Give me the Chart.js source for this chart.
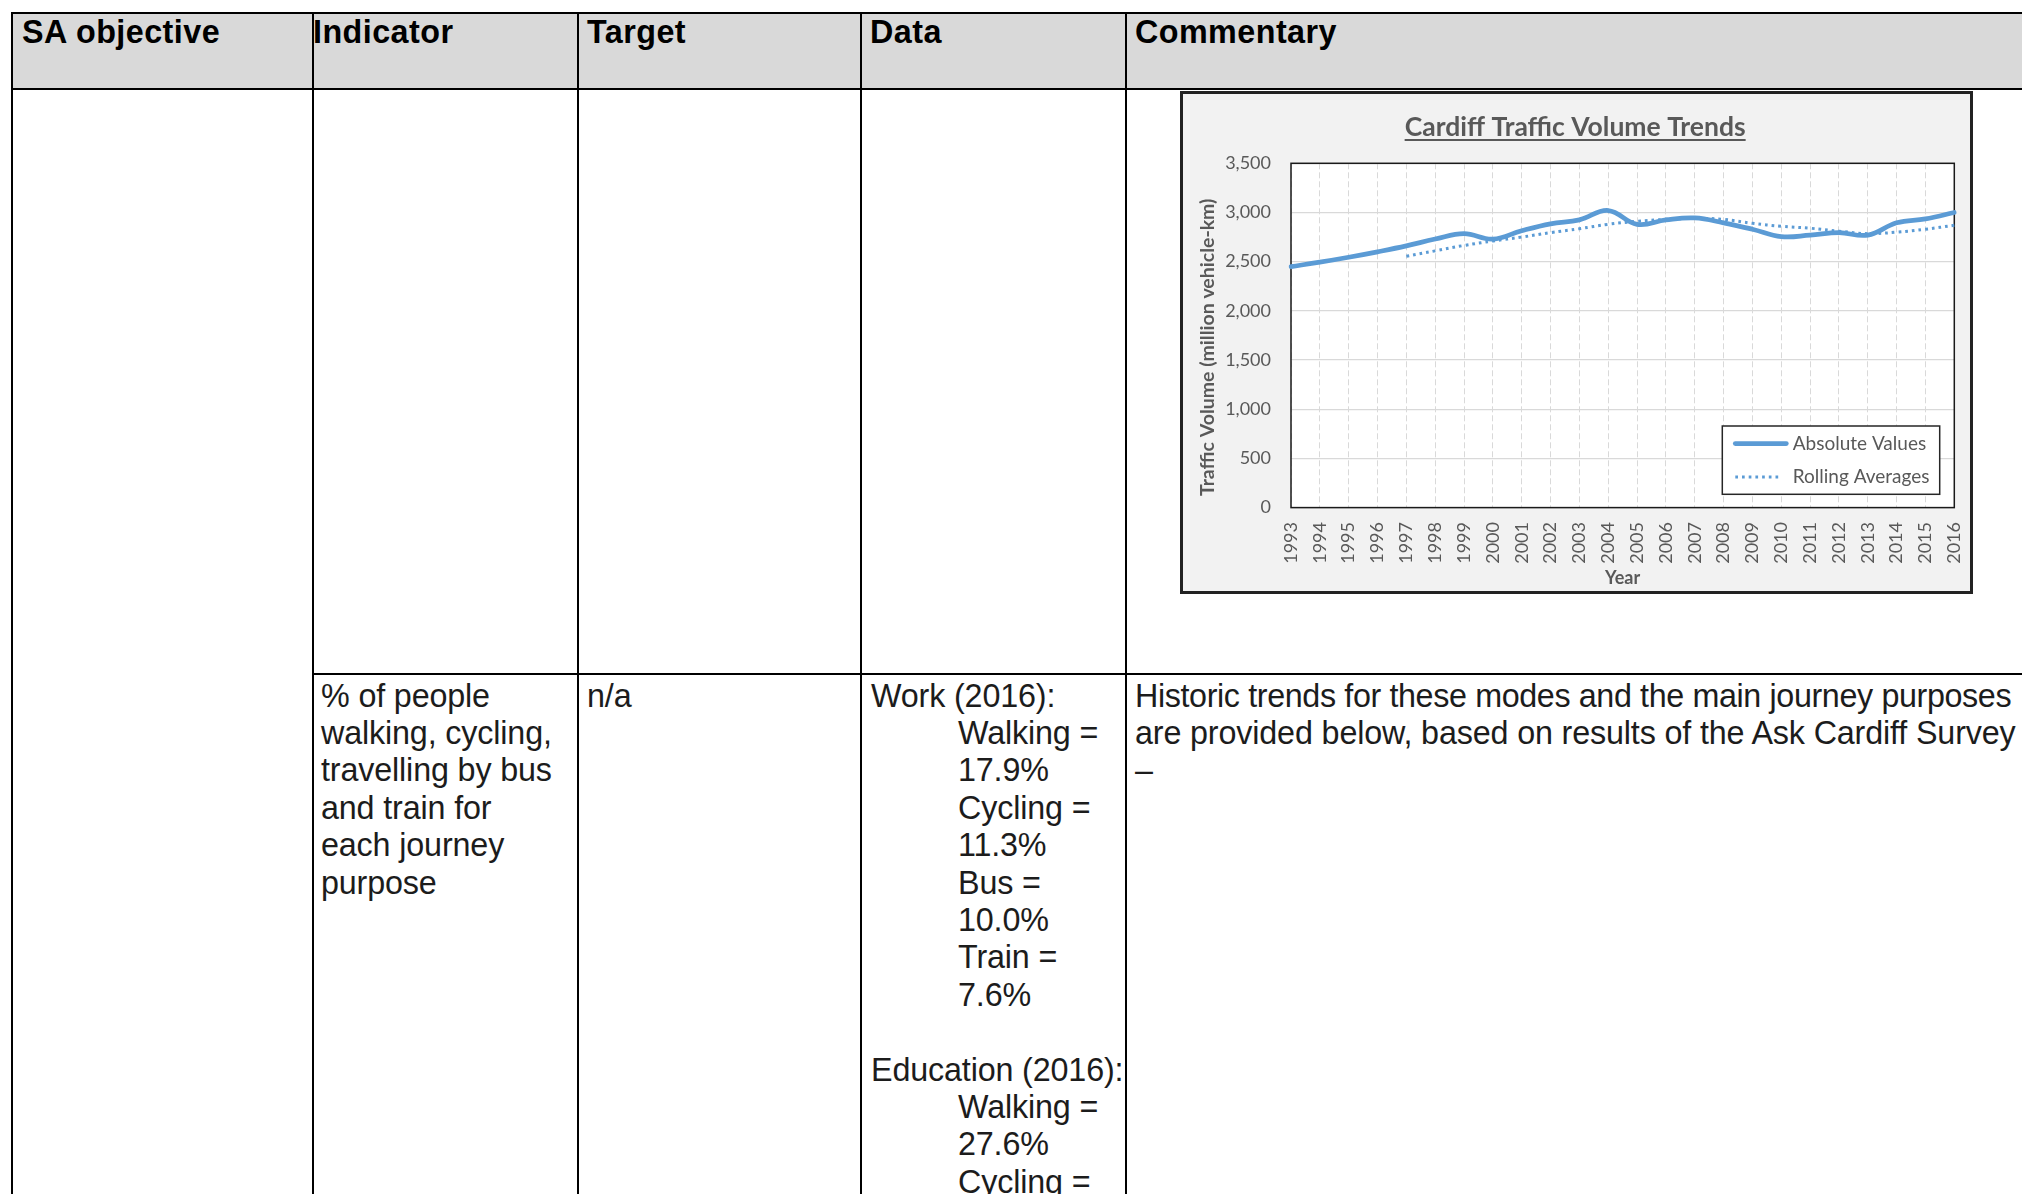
<!DOCTYPE html>
<html>
<head>
<meta charset="utf-8">
<title>Cardiff Traffic Volume Trends</title>
<script src="https://cdn.jsdelivr.net/npm/chart.js@4.4.1/dist/chart.umd.min.js"></script>
<style>
    html, body { margin: 0; padding: 0; background: #fff; }
    body {
        width: 2022px; height: 1194px; overflow: hidden; position: relative;
        font-family: "Liberation Sans", Arial, sans-serif; color: #1c1c1c;
    }
    .rule { position: absolute; background: #000; }
    .head-bg { position: absolute; left: 13px; top: 13.5px; width: 2009px; height: 74px; background: #d9d9d9; }
    .cell { position: absolute; font-size: 32.3px; line-height: 37.4px; white-space: nowrap; letter-spacing: -0.15px; }
    .cell.head { font-weight: bold; color: #000; letter-spacing: 0.45px; }
    .ind { padding-left: 87px; }
    .tight { letter-spacing: -0.38px; }
    #chart-box {
        position: absolute; left: 1180px; top: 91px; width: 787px; height: 497px;
        border: 3px solid #222; background: #f2f2f2;
    }
    #chart-box canvas { display: block; }
</style>
</head>
<body>
    <div class="head-bg"></div>

    <!-- table rules -->
    <div class="rule" style="left:11px;top:11.5px;width:2011px;height:2px"></div>
    <div class="rule" style="left:11px;top:87.5px;width:2011px;height:2px"></div>
    <div class="rule" style="left:311.5px;top:673px;width:1711px;height:2px"></div>
    <div class="rule" style="left:11px;top:11.5px;width:2px;height:1183px"></div>
    <div class="rule" style="left:311.5px;top:11.5px;width:2px;height:1183px"></div>
    <div class="rule" style="left:577px;top:11.5px;width:2px;height:1183px"></div>
    <div class="rule" style="left:860px;top:11.5px;width:2px;height:1183px"></div>
    <div class="rule" style="left:1125px;top:11.5px;width:2px;height:1183px"></div>

    <!-- header -->
    <div class="cell head" style="left:22px;top:13.5px">SA objective</div>
    <div class="cell head" style="left:313px;top:13.5px">Indicator</div>
    <div class="cell head" style="left:587px;top:13.5px">Target</div>
    <div class="cell head" style="left:870px;top:13.5px">Data</div>
    <div class="cell head" style="left:1135px;top:13.5px">Commentary</div>

    <!-- chart in first row -->
    <div id="chart-box"><canvas id="trafficChart" width="787" height="497"></canvas></div>

    <!-- second row -->
    <div class="cell" style="left:321px;top:677.5px">
        <div>% of people</div>
        <div>walking, cycling,</div>
        <div>travelling by bus</div>
        <div>and train for</div>
        <div>each journey</div>
        <div>purpose</div>
    </div>
    <div class="cell" style="left:587px;top:677.5px">n/a</div>
    <div class="cell" style="left:871px;top:677.5px">
        <div>Work (2016):</div>
        <div class="ind">Walking =</div>
        <div class="ind">17.9%</div>
        <div class="ind">Cycling =</div>
        <div class="ind">11.3%</div>
        <div class="ind">Bus =</div>
        <div class="ind">10.0%</div>
        <div class="ind">Train =</div>
        <div class="ind">7.6%</div>
        <div>&nbsp;</div>
        <div>Education (2016):</div>
        <div class="ind">Walking =</div>
        <div class="ind">27.6%</div>
        <div class="ind">Cycling =</div>
    </div>
    <div class="cell" style="left:1135px;top:677.5px">
        <div class="tight">Historic trends for these modes and the main journey purposes</div>
        <div>are provided below, based on results of the Ask Cardiff Survey</div>
        <div>&ndash;</div>
    </div>

<script>
// Cardiff traffic volume chart
const years = ['1993','1994','1995','1996','1997','1998','1999','2000','2001','2002','2003','2004',
               '2005','2006','2007','2008','2009','2010','2011','2012','2013','2014','2015','2016'];
const absoluteValues = [2450, 2495, 2545, 2600, 2660, 2730, 2785, 2730, 2815, 2885, 2925, 3020,
                        2880, 2925, 2945, 2895, 2830, 2755, 2770, 2795, 2770, 2895, 2935, 3000];
const rollingAverages = [null, null, null, null, 2555, 2610, 2665, 2710, 2750, 2795, 2835, 2880,
                         2910, 2930, 2940, 2930, 2890, 2860, 2840, 2810, 2785, 2800, 2830, 2870];
const yMin = 0;
const yMax = 3500;
const yStep = 500;

(function() {
    const grey = '#595959';
    const blue = '#5b9bd5';
    const titleSize = 26.5;
    const titlePadTop = 33.5 - titleSize * 0.6;
    const titlePadBottom = 69.3 - titlePadTop - titleSize * 1.2;
    const axisTitleSize = 19.5;

    Chart.defaults.font.family = 'Lato';

    // white plot area + black frame round it
    const plotFrame = {
        id: 'plotFrame',
        beforeDraw(chart) {
            const a = chart.chartArea, ctx = chart.ctx;
            ctx.save();
            ctx.fillStyle = '#fff';
            ctx.fillRect(a.left, a.top, a.right - a.left, a.bottom - a.top);
            ctx.restore();
        },
        beforeDatasetsDraw(chart) {
            const a = chart.chartArea, ctx = chart.ctx;
            ctx.save();
            ctx.strokeStyle = '#1a1a1a';
            ctx.lineWidth = 1.5;
            ctx.strokeRect(a.left, a.top, a.right - a.left, a.bottom - a.top);
            ctx.restore();
        }
    };

    // underline under the chart title
    const titleUnderline = {
        id: 'titleUnderline',
        afterDraw(chart) {
            const t = chart.titleBlock;
            if (!t) return;
            const ctx = chart.ctx;
            const text = chart.options.plugins.title.text;
            ctx.save();
            ctx.font = 'bold ' + titleSize + 'px Lato';
            const w = ctx.measureText(text).width;
            const cx = (t.left + t.right) / 2;
            const y = t.top + titlePadTop + titleSize * 0.6 + 12.5;
            ctx.strokeStyle = grey;
            ctx.lineWidth = 2;
            ctx.beginPath();
            ctx.moveTo(cx - w / 2, y);
            ctx.lineTo(cx + w / 2, y);
            ctx.stroke();
            ctx.restore();
        }
    };

    // boxed legend in the lower right of the plot
    const boxLegend = {
        id: 'boxLegend',
        afterDatasetsDraw(chart) {
            const a = chart.chartArea, ctx = chart.ctx;
            const w = 217.4, h = 68.3;
            const x = a.right - 14.6 - w, y = a.bottom - 13.3 - h;
            ctx.save();
            ctx.fillStyle = '#fff';
            ctx.fillRect(x, y, w, h);
            ctx.strokeStyle = '#262626';
            ctx.lineWidth = 1.5;
            ctx.strokeRect(x, y, w, h);
            chart.data.datasets.forEach((ds, i) => {
                const ly = y + 17.6 + i * 33.4;
                ctx.beginPath();
                ctx.strokeStyle = ds.borderColor;
                ctx.lineWidth = ds.borderWidth;
                ctx.lineCap = ds.borderCapStyle || 'butt';
                ctx.setLineDash(ds.borderDash || []);
                ctx.moveTo(x + 13, ly);
                ctx.lineTo(x + (i === 0 ? 64 : 58), ly);
                ctx.stroke();
                ctx.setLineDash([]);
                ctx.fillStyle = grey;
                ctx.font = '19px Lato';
                ctx.textBaseline = 'middle';
                ctx.fillText(ds.label, x + 70.4, ly);
            });
            ctx.restore();
        }
    };

    function initChart() {
        const ctx = document.getElementById('trafficChart').getContext('2d');
        new Chart(ctx, {
            type: 'line',
            data: {
                labels: years,
                datasets: [{
                    label: 'Absolute Values',
                    data: absoluteValues,
                    borderColor: blue,
                    borderWidth: 4.75,
                    borderCapStyle: 'round',
                    tension: 0.4,
                    pointRadius: 0,
                    fill: false
                }, {
                    label: 'Rolling Averages',
                    data: rollingAverages,
                    borderColor: blue,
                    borderWidth: 3,
                    borderDash: [2.7, 4],
                    tension: 0.4,
                    pointRadius: 0,
                    fill: false
                }]
            },
            options: {
                responsive: false,
                animation: false,
                layout: { padding: { left: 13, right: 15.7, top: 0, bottom: 2.2 } },
                plugins: {
                    legend: { display: false },
                    tooltip: { enabled: false },
                    title: {
                        display: true,
                        text: 'Cardiff Traffic Volume Trends',
                        color: grey,
                        font: { family: 'Lato', size: titleSize, weight: 'bold' },
                        padding: { top: titlePadTop, bottom: titlePadBottom }
                    }
                },
                scales: {
                    x: {
                        offset: false,
                        ticks: { minRotation: 90, maxRotation: 90, autoSkip: false, padding: 14.4,
                                 color: grey, font: { size: 18 } },
                        grid: { color: '#d9d9d9', lineWidth: 1, drawTicks: false },
                        border: { display: false, dash: [6, 3] },
                        title: { display: true, text: 'Year', color: grey,
                                 font: { size: 18, weight: 'bold' }, padding: { top: 0, bottom: 0 } },
                        afterFit: s => { s.height = 81.2; s.paddingLeft = 0; s.paddingRight = 0; }
                    },
                    y: {
                        min: yMin,
                        max: yMax,
                        ticks: { stepSize: yStep, padding: 20, color: grey, font: { size: 18 },
                                 callback: v => v.toLocaleString('en-US') },
                        grid: { color: '#d9d9d9', lineWidth: 1.3, drawTicks: false },
                        border: { display: false },
                        // trailing spaces nudge the rotated title down a little, as in Excel
                        title: { display: true, text: 'Traffic Volume (million vehicle-km)     ', color: grey,
                                 font: { size: axisTitleSize, weight: 'bold' }, padding: { top: 0, bottom: 0 } },
                        afterFit: s => { s.width = 108 - 13; s.paddingTop = 0; s.paddingBottom = 0; }
                    }
                }
            },
            plugins: [plotFrame, titleUnderline, boxLegend]
        });
    }

    initChart();
})();
</script>
</body>
</html>
